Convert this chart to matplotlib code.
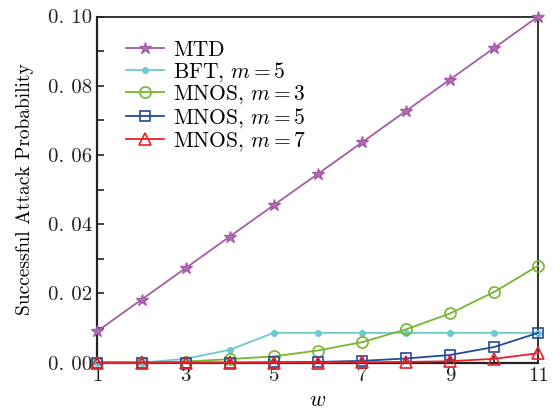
import numpy as np
import matplotlib
matplotlib.use('Agg')
import matplotlib.pyplot as plt

plt.rcParams['font.family'] = ['cmr10', 'DejaVu Serif']
plt.rcParams['mathtext.fontset'] = 'cm'
plt.rcParams['axes.unicode_minus'] = False

# 数据
w = [1, 2, 3, 4, 5, 6, 7, 8, 9, 10, 11]
mtd = [0.0091, 0.0182, 0.0273, 0.0364, 0.0455, 0.0545, 0.0636, 0.0727, 0.0818, 0.0909, 0.1000]
bft5 = [0.0, 0.0, 0.0011, 0.0037, 0.0086, 0.0086, 0.0086, 0.0086, 0.0086, 0.0086, 0.0086]
mnos3 = [0.0, 0.0, 0.0003, 0.0010, 0.0018, 0.0035, 0.0059, 0.0096, 0.0142, 0.0204, 0.0280]
mnos5 = [0.0, 0.0, 0.0, 0.0, 0.0001, 0.0002, 0.0005, 0.0012, 0.0022, 0.0045, 0.0086]
mnos7 = [0.0, 0.0, 0.0, 0.0, 0.0, 0.0, 0.0001, 0.0002, 0.0004, 0.0011, 0.0027]

fig = plt.figure(figsize=(5.6, 4.13), dpi=100)
ax = fig.add_axes([0.174, 0.122, 0.787, 0.838])

ax.plot(w, mtd, color='#A55BA8', lw=1.3, marker='*', ms=9, mfc='#B070B0', mec='#A55BA8',
        label='MTD', clip_on=False, zorder=3)
ax.plot(w, bft5, color='#6CC9D1', lw=1.3, marker='o', ms=4, mfc='#6CC9D1', mec='#6CC9D1',
        label=r'BFT$,\,m=5$', clip_on=False, zorder=3)
ax.plot(w, mnos3, color='#74B72E', lw=1.3, marker='o', ms=8, mfc='none', mec='#74B72E', mew=1.2,
        label=r'MNOS$,\,m=3$', clip_on=False, zorder=3)
ax.plot(w, mnos5, color='#244A9A', lw=1.3, marker='s', ms=7, mfc='none', mec='#244A9A', mew=1.2,
        label=r'MNOS$,\,m=5$', clip_on=False, zorder=3)
ax.plot(w, mnos7, color='#E8202A', lw=1.3, marker='^', ms=8, mfc='none', mec='#E8202A', mew=1.2,
        label=r'MNOS$,\,m=7$', clip_on=False, zorder=3)

ax.set_xlim(1, 11)
ax.set_ylim(0, 0.10)
ax.set_xticks(w)
ax.set_xticklabels([str(v) if v % 2 == 1 else '' for v in w])
yt = np.arange(0, 0.1001, 0.01)
ax.set_yticks(yt)
ax.set_yticklabels(['0. %02d' % round(v * 100) if round(v * 100) % 2 == 0 else '' for v in yt])
ax.tick_params(direction='in', length=5, width=1.2, labelsize=15, colors='#222222')

for s in ax.spines.values():
    s.set_linewidth(1.3)
    s.set_color('#222222')
ax.spines['left'].set_linewidth(1.6)
ax.spines['bottom'].set_linewidth(1.6)

ax.set_xlabel(r'$w$', fontsize=16, labelpad=4)
ax.set_ylabel('Successful Attack Probability', fontsize=14, labelpad=10)

ax.legend(loc='upper left', bbox_to_anchor=(0.03, 0.975), frameon=False, fontsize=15.5,
          handlelength=1.8, handletextpad=0.4, labelspacing=0.0, borderaxespad=0.3)

fig.savefig('out.png', dpi=100)
